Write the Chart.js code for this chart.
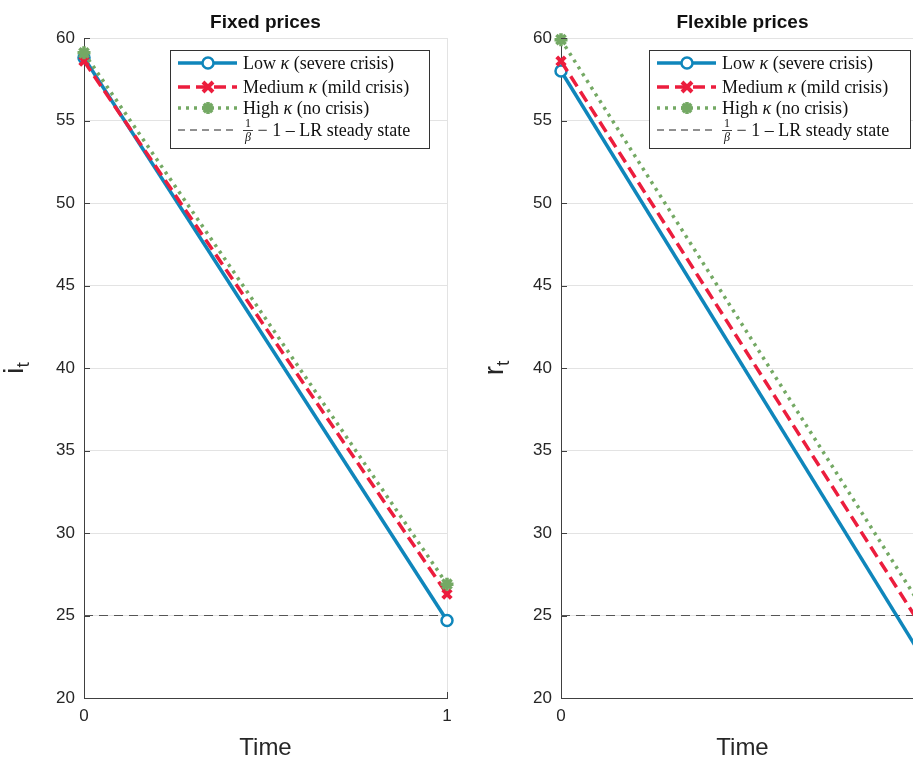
<!DOCTYPE html>
<html>
<head>
<meta charset="utf-8">
<script src="https://cdn.jsdelivr.net/npm/chart.js@4.4.1/dist/chart.umd.min.js"></script>
<style>
  html, body { margin: 0; padding: 0; background: #fff; overflow: hidden; }
  #wrap { position: relative; width: 913px; height: 758px; overflow: hidden; }
  canvas { position: absolute; top: 0; }
</style>
</head>
<body>
<div id="wrap">
  <canvas id="fixed" width="470" height="758" style="left:0"></canvas>
  <canvas id="flex" width="470" height="758" style="left:470px"></canvas>
</div>
<script>
// data
const times = [0, 1];
const yTicks = [20, 25, 30, 35, 40, 45, 50, 55, 60];
const steadyState = [25, 25];

const fixedLow = [58.8, 24.7];
const fixedMedium = [58.6, 26.3];
const fixedHigh = [59.1, 26.9];

const flexLow = [58.0, 22.3];
const flexMedium = [58.6, 24.1];
const flexHigh = [59.9, 25.3];

const COL_LOW = '#0f86bb';
const COL_MED = '#ec1d3d';
const COL_HIGH = '#74a964';
const AXIS = '#404040';
const TXT = '#262626';
const SERIF = '"Liberation Serif", "DejaVu Serif", serif';

const pts = arr => times.map((t, i) => ({ x: t, y: arr[i] }));

const legendRows = [
    { color: COL_LOW, dash: [], width: 3.5, marker: 'circle', parts: [['Low ', 0], ['κ', 1], [' (severe crisis)', 0]] },
    { color: COL_MED, dash: [12, 6], width: 3.5, marker: 'x', parts: [['Medium ', 0], ['κ', 1], [' (mild crisis)', 0]] },
    { color: COL_HIGH, dash: [3, 5], width: 3.5, marker: 'star', parts: [['High ', 0], ['κ', 1], [' (no crisis)', 0]] },
    { color: '#222', dash: [7, 5], width: 1, marker: null, parts: null }
];

function drawMarker(ctx, kind, x, y, color) {
    ctx.save();
    ctx.setLineDash([]);
    ctx.strokeStyle = color;
    ctx.fillStyle = color;
    if (kind === 'circle') {
        ctx.fillStyle = '#fff';
        ctx.lineWidth = 2.5;
        ctx.beginPath(); ctx.arc(x, y, 5.5, 0, Math.PI * 2); ctx.fill(); ctx.stroke();
    } else if (kind === 'x') {
        ctx.lineWidth = 4;
        ctx.beginPath();
        ctx.moveTo(x - 5, y - 5); ctx.lineTo(x + 5, y + 5);
        ctx.moveTo(x + 5, y - 5); ctx.lineTo(x - 5, y + 5);
        ctx.stroke();
    } else if (kind === 'star') {
        ctx.lineWidth = 3.5;
        ctx.beginPath();
        for (let k = 0; k < 4; k++) {
            const a = k * Math.PI / 4;
            ctx.moveTo(x - 6 * Math.cos(a), y - 6 * Math.sin(a));
            ctx.lineTo(x + 6 * Math.cos(a), y + 6 * Math.sin(a));
        }
        ctx.stroke();
    }
    ctx.restore();
}

const decor = {
    id: 'decor',
    afterDraw(chart, args, opts) {
        const ctx = chart.ctx;
        const a = chart.chartArea;
        const xs = chart.scales.x, ys = chart.scales.y;
        ctx.save();

        // inward tick marks like MATLAB
        ctx.strokeStyle = AXIS;
        ctx.lineWidth = 1;
        ctx.beginPath();
        yTicks.forEach(v => {
            const py = Math.round(ys.getPixelForValue(v)) + 0.5;
            ctx.moveTo(a.left, py); ctx.lineTo(a.left + 6, py);
        });
        times.forEach(v => {
            const px = Math.round(xs.getPixelForValue(v)) + 0.5;
            ctx.moveTo(px, a.bottom); ctx.lineTo(px, a.bottom - 6);
        });
        ctx.stroke();

        // title
        ctx.fillStyle = '#111';
        ctx.font = 'bold 19px "Liberation Sans", Arial, sans-serif';
        ctx.textAlign = 'center';
        ctx.textBaseline = 'alphabetic';
        ctx.fillText(opts.title, (a.left + a.right) / 2, 28);

        // x label
        ctx.fillStyle = TXT;
        ctx.font = '24px "Liberation Sans", Arial, sans-serif';
        ctx.fillText('Time', (a.left + a.right) / 2, 755);

        // y label with subscript, rotated
        ctx.save();
        ctx.translate(opts.ylabX, (a.top + a.bottom) / 2);
        ctx.rotate(-Math.PI / 2);
        ctx.textAlign = 'left';
        ctx.font = '28px "Liberation Sans", Arial, sans-serif';
        const wMain = ctx.measureText(opts.ylab).width;
        ctx.font = '19px "Liberation Sans", Arial, sans-serif';
        const wSub = ctx.measureText('t').width;
        const start = -(wMain + wSub) / 2;
        ctx.font = '28px "Liberation Sans", Arial, sans-serif';
        ctx.fillText(opts.ylab, start, 0);
        ctx.font = '19px "Liberation Sans", Arial, sans-serif';
        ctx.fillText('t', start + wMain, 6);
        ctx.restore();

        // legend box
        const bx = opts.legendX, by = 50, bw = opts.legendW, bh = 98;
        ctx.fillStyle = '#fff';
        ctx.fillRect(bx, by, bw, bh);
        ctx.strokeStyle = '#333';
        ctx.lineWidth = 1;
        ctx.strokeRect(bx + 0.5, by + 0.5, bw, bh);

        const rowY = [13, 37, 58, 80];
        legendRows.forEach((r, i) => {
            const y = by + rowY[i];
            ctx.save();
            ctx.strokeStyle = r.color;
            ctx.lineWidth = r.width;
            ctx.setLineDash(r.dash);
            ctx.beginPath(); ctx.moveTo(bx + 8, y); ctx.lineTo(bx + 67, y); ctx.stroke();
            ctx.restore();
            if (r.marker) drawMarker(ctx, r.marker, bx + 38, y, r.color);

            ctx.fillStyle = '#111';
            ctx.textAlign = 'left';
            ctx.textBaseline = 'middle';
            let tx = bx + 73;
            if (r.parts) {
                r.parts.forEach(([t, it]) => {
                    ctx.font = (it ? 'italic ' : '') + '18px ' + SERIF;
                    ctx.fillText(t, tx, y + 1);
                    tx += ctx.measureText(t).width;
                });
            } else {
                // 1/β fraction
                ctx.font = '12px ' + SERIF;
                ctx.textAlign = 'center';
                ctx.fillText('1', tx + 5, y - 6);
                ctx.font = 'italic 12px ' + SERIF;
                ctx.fillText('β', tx + 5, y + 8);
                ctx.fillRect(tx, y, 10, 0.8);
                ctx.textAlign = 'left';
                ctx.font = '18px ' + SERIF;
                ctx.fillText(' − 1 – LR steady state', tx + 10, y + 1);
            }
        });
        ctx.restore();
    }
};

function mkPanel(el, low, med, high, opts) {
    return new Chart(el, {
        type: 'line',
        data: {
            datasets: [
                {
                    data: pts(low), borderColor: COL_LOW, borderWidth: 3.5,
                    pointStyle: 'circle', pointRadius: 5.5, pointBorderWidth: 2.5,
                    pointBackgroundColor: '#fff', pointBorderColor: COL_LOW, order: 3, clip: false
                },
                {
                    data: pts(med), borderColor: COL_MED, borderWidth: 3.5, borderDash: [12, 6],
                    pointStyle: 'crossRot', pointRadius: 6, pointBorderWidth: 4,
                    pointBorderColor: COL_MED, order: 2, clip: false
                },
                {
                    data: pts(high), borderColor: COL_HIGH, borderWidth: 3.5, borderDash: [3, 5],
                    pointStyle: 'star', pointRadius: 6.5, pointBorderWidth: 3.5,
                    pointBorderColor: COL_HIGH, order: 1, clip: false
                },
                {
                    data: pts(steadyState), borderColor: '#555', borderWidth: 1, borderDash: [9, 6],
                    pointRadius: 0, order: 4
                }
            ]
        },
        options: {
            responsive: false,
            animation: false,
            events: [],
            layout: { padding: { top: 38, right: opts.padRight, left: 0, bottom: 0 } },
            plugins: { legend: { display: false }, tooltip: { enabled: false }, decor: opts },
            scales: {
                x: {
                    type: 'linear', min: 0, max: 1,
                    afterFit: s => { s.height = 60; },
                    ticks: { stepSize: 1, color: TXT, padding: 8, font: { family: '"Liberation Sans", Arial', size: 17 } },
                    grid: { color: '#e3e3e3', drawTicks: false },
                    border: { display: true, color: AXIS, width: 1 }
                },
                y: {
                    min: 20, max: 60,
                    afterFit: s => { s.width = opts.yWidth; },
                    afterBuildTicks: s => { s.ticks = yTicks.map(v => ({ value: v })); },
                    ticks: { color: TXT, padding: 9, font: { family: '"Liberation Sans", Arial', size: 17 } },
                    grid: { color: '#e3e3e3', drawTicks: false },
                    border: { display: true, color: AXIS, width: 1 }
                }
            }
        },
        plugins: [decor]
    });
}

mkPanel(document.getElementById('fixed'), fixedLow, fixedMedium, fixedHigh, {
    title: 'Fixed prices', ylab: 'i', ylabX: 23, legendX: 170, legendW: 259, yWidth: 84, padRight: 23
});
mkPanel(document.getElementById('flex'), flexLow, flexMedium, flexHigh, {
    title: 'Flexible prices', ylab: 'r', ylabX: 33, legendX: 179, legendW: 261, yWidth: 91, padRight: 16
});
</script>
</body>
</html>
